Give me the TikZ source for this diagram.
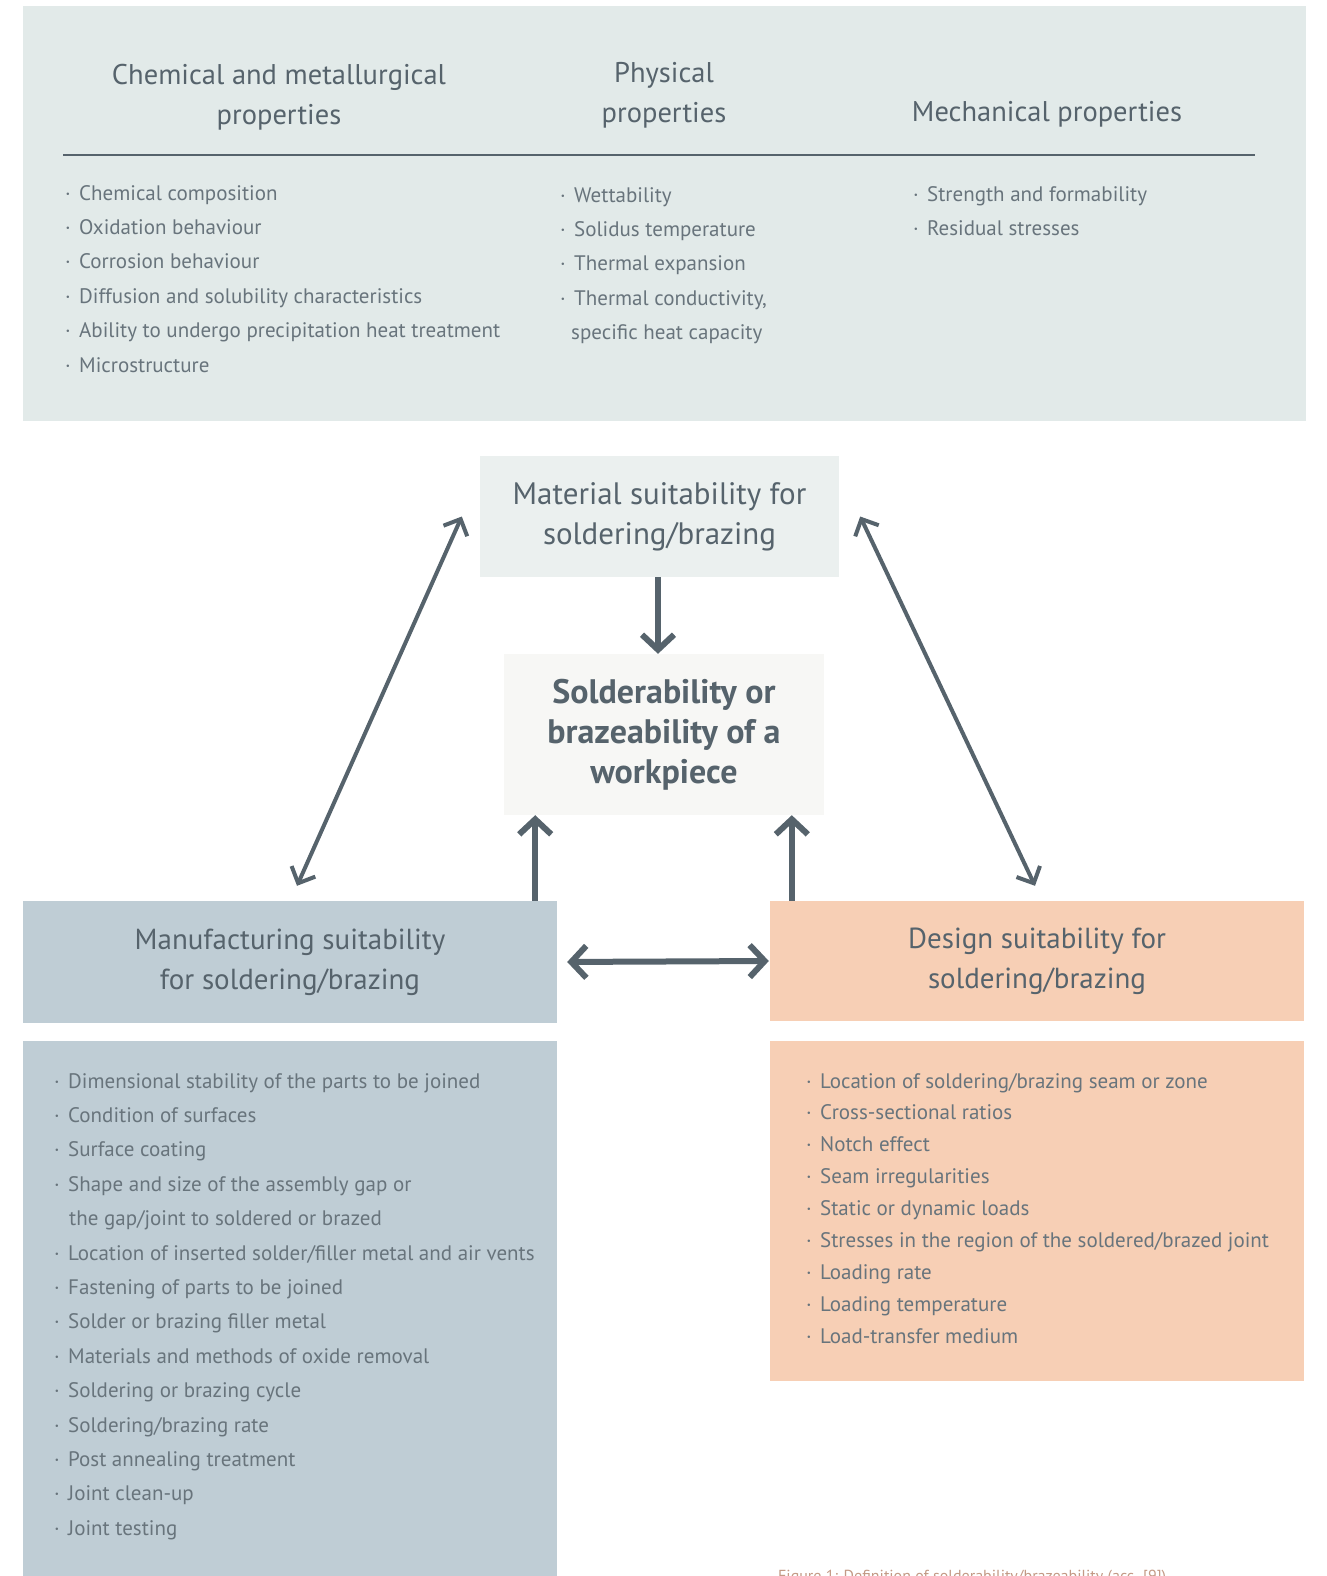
\documentclass[tikz,border=0pt]{standalone}
\usepackage{fontspec}
\setmainfont{PT Sans}
\usetikzlibrary{arrows.meta,positioning}
\definecolor{slate}{HTML}{56636C}
\definecolor{listgrey}{HTML}{68747C}
\definecolor{panel}{HTML}{E2EAE9}
\definecolor{matfill}{HTML}{EBF0EF}
\definecolor{solfill}{HTML}{F7F7F5}
\definecolor{manfill}{HTML}{BFCDD5}
\definecolor{desfill}{HTML}{F7CFB5}
\definecolor{captan}{HTML}{C39A86}
\tikzset{
  head/.style={font=\fontsize{28.5}{40}\selectfont, text=slate, align=center},
  boxtitle/.style={font=\fontsize{29}{40}\selectfont, text=slate, align=center, inner sep=0pt},
  item/.style={font=\fontsize{21}{34}\selectfont, text=listgrey, anchor=base west, inner sep=0pt},
  fat/.style={draw=slate, line width=6pt, -{Straight Barb[length=15pt,width=32pt]}},
  link/.style={draw=slate, line width=4pt, {Straight Barb[length=13pt,width=26pt]}-{Straight Barb[length=13pt,width=26pt]}}
}
\newcommand{\bul}{\makebox[14pt][l]{·}}
\begin{document}
\begin{tikzpicture}[x=1pt,y=-1pt]
    \useasboundingbox (0,0) rectangle (1326,1576);
    \clip (0,0) rectangle (1326,1576);
    % properties panel
    \fill[panel] (23,6) rectangle (1306,421);
    \node[head] (chem) at (279,97) {Chemical and metallurgical\\properties};
    \node[head] (phys) at (664,95) {Physical\\properties};
    \node[head] (mech) at (1047,114) {Mechanical properties};
    \draw[slate, line width=2pt] (63,155) -- (1255,155);
    \foreach \t [count=\i] in {Chemical composition,Oxidation behaviour,Corrosion behaviour,Diffusion and solubility characteristics,Ability to undergo precipitation heat treatment,Microstructure}
        {\node[item] at (65,{193+7+34.4*(\i-1)}) {\bul\t};
        }
    \foreach \t [count=\i] in {Wettability,Solidus temperature,Thermal expansion,{Thermal conductivity,}}
        {\node[item] at (560,{195+7+34.4*(\i-1)}) {\bul\t};
        }
    \node[item] at (571,{195+7+34.4*4}) {specific heat capacity};
    \foreach \t [count=\i] in {Strength and formability,Residual stresses}
        {\node[item] at (913,{194+7+34.4*(\i-1)}) {\bul\t};
        }
    % the four boxes
    \node[boxtitle, fill=matfill, minimum width=359pt, minimum height=121pt, font=\fontsize{31}{40}\selectfont] (material) at (659.5,516.5) {Material suitability for\\soldering/brazing};
    \node[boxtitle, fill=solfill, minimum width=320pt, minimum height=161pt, font=\fontsize{34}{40}\bfseries] (solder) at (664,734.5) {Solderability or\\brazeability of a\\workpiece};
    \node[boxtitle, fill=manfill, minimum width=534pt, minimum height=122pt] (manuf) at (290,962) {Manufacturing suitability\\for soldering/brazing};
    \node[boxtitle, fill=desfill, minimum width=534pt, minimum height=120pt] (design) at (1037,961) {Design suitability for\\soldering/brazing};
    % connectors
    \draw[fat] ([xshift=-1.5pt]material.south) -- ([xshift=-1.5pt]material.south |- solder.north);
    \draw[fat] ([xshift=-22pt]manuf.north east) -- ([xshift=-22pt]manuf.north east |- solder.south);
    \draw[fat] ([xshift=22pt]design.north west) -- ([xshift=22pt]design.north west |- solder.south);
    \draw[fat, {Straight Barb[length=15pt,width=32pt]}-{Straight Barb[length=15pt,width=32pt]}, shorten <=10pt, shorten >=1pt] (manuf.east) -- (design.west);
    \draw[link] ([xshift=7pt,yshift=15pt]manuf.north) -- ([xshift=-18pt]material.west);
    \draw[link] ([xshift=21pt]material.east) -- ([xshift=-2pt,yshift=15pt]design.north);
    % lists below
    \fill[manfill] (23,1041) rectangle (557,1576);
    \fill[desfill] (770,1041) rectangle (1304,1381);
    \foreach \t [count=\i] in {Dimensional stability of the parts to be joined,Condition of surfaces,Surface coating,Shape and size of the assembly gap or}
        {\node[item] at (54,{1081+7+34.4*(\i-1)}) {\bul\t};
        }
    \node[item] at (69,{1081+7+34.4*4}) {the gap/joint to soldered or brazed};
    \foreach \t [count=\i] in {Location of inserted solder/filler metal and air vents,Fastening of parts to be joined,Solder or brazing filler metal,Materials and methods of oxide removal,Soldering or brazing cycle,Soldering/brazing rate,Post annealing treatment,Joint clean-up,Joint testing}
        {\node[item] at (54,{1253+7+34.4*(\i-1)}) {\bul\t};
        }
    \foreach \t [count=\i] in {Location of soldering/brazing seam or zone,Cross-sectional ratios,Notch effect,Seam irregularities,Static or dynamic loads,Stresses in the region of the soldered/brazed joint,Loading rate,Loading temperature,Load-transfer medium}
        {\node[item] at (806,{1081+7+31.9*(\i-1)}) {\bul\t};
        }
    \node[font=\fontsize{16}{20}\selectfont, text=captan, anchor=base west, inner sep=0pt] (caption) at (778,1581) {Figure 1: Definition of solderability/brazeability (acc. [9])};
\end{tikzpicture}
\end{document}
